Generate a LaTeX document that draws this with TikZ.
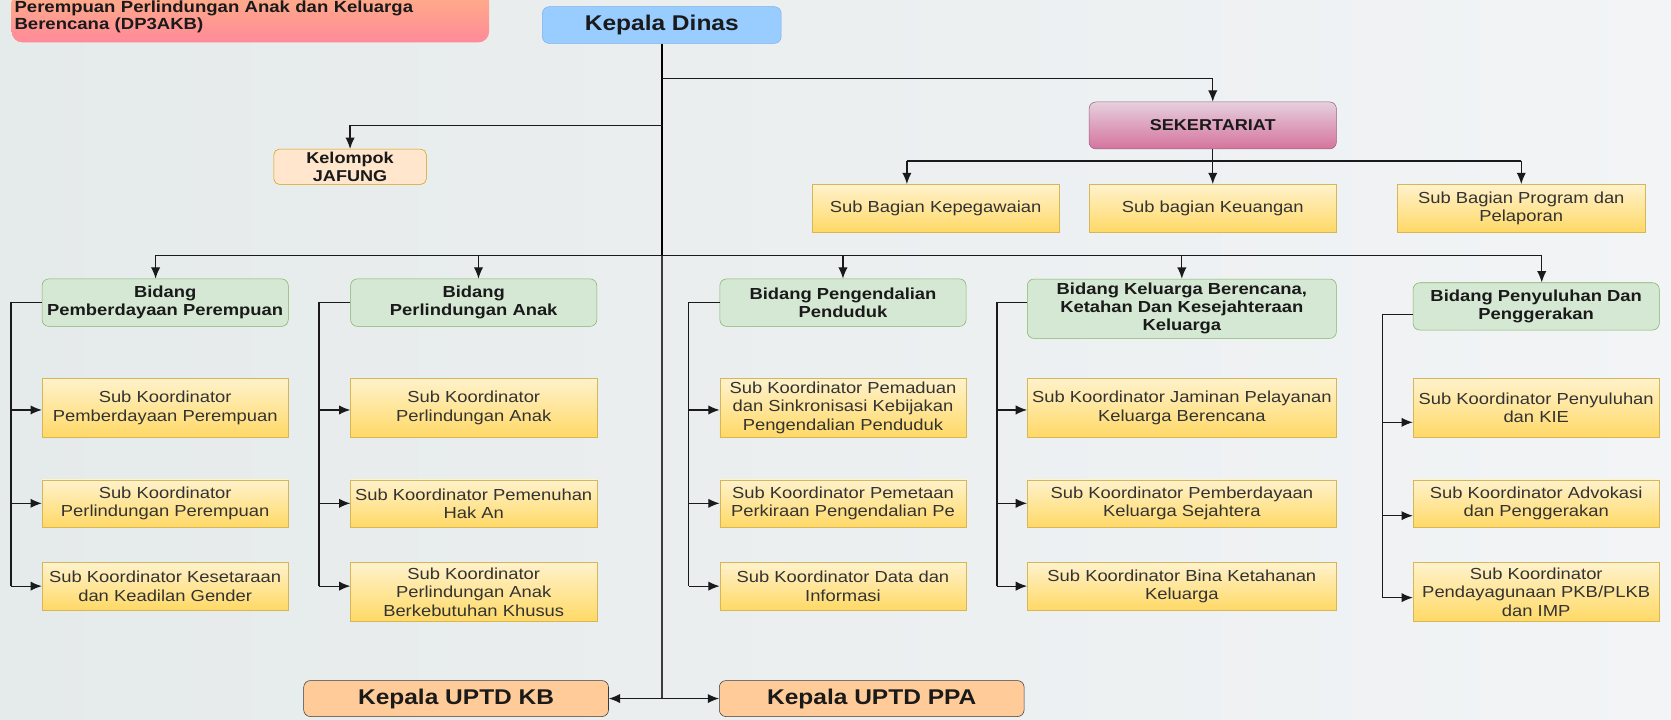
\documentclass[tikz,border=0pt]{standalone}
\usepackage{fontspec}
\setmainfont{Liberation Sans}[FakeStretch=1.15]
\usetikzlibrary{arrows.meta}

\definecolor{bgleft}{HTML}{E5EAEA}
\definecolor{bgright}{HTML}{F2F4F6}
\definecolor{ylwtop}{HTML}{FFF2CC}
\definecolor{ylwbot}{HTML}{FFD966}
\definecolor{ylwline}{HTML}{D6B656}
\definecolor{grnfill}{HTML}{D5E8D4}
\definecolor{grnline}{HTML}{82B366}
\definecolor{blufill}{HTML}{99CCFF}
\definecolor{bluline}{HTML}{7EB0EC}
\definecolor{pnktop}{HTML}{E6D0DE}
\definecolor{pnkbot}{HTML}{D5739D}
\definecolor{pnkline}{HTML}{996185}
\definecolor{jftfill}{HTML}{FFE6CC}
\definecolor{jftline}{HTML}{D79B00}
\definecolor{uptfill}{HTML}{FFCC99}
\definecolor{uptline}{HTML}{36393D}
\definecolor{ttltop}{HTML}{FFAF88}
\definecolor{ttlbot}{HTML}{FF8A98}
\definecolor{ink}{HTML}{1A1A1A}
\definecolor{txtgray}{HTML}{333333}

\newcommand\subtxt{\fontsize{12}{13.6}\selectfont}
\newcommand\bidtxt{\fontsize{12}{13.4}\selectfont\bfseries}
\newcommand\headtxt{\fontsize{16}{18}\selectfont\bfseries}
\newcommand\smalltxt{\fontsize{11.8}{13}\selectfont\bfseries}

\tikzset{
  line/.style={draw=ink, line width=0.9pt},
  arr/.style={line, -{Latex[length=8.5pt,width=7pt]}},
  trunk/.style={draw=black, line width=1.6pt},
  trunklow/.style={draw=ink!85, line width=1.2pt},
  subbox/.style={draw=ylwline, top color=ylwtop, bottom color=ylwbot, align=center,
    inner sep=0pt, text=txtgray, font=\subtxt, minimum width=184.8pt},
  bidbox/.style={draw=grnline, fill=grnfill, rounded corners=5pt, align=center,
    inner sep=0pt, text=ink, font=\bidtxt, minimum width=184.8pt},
  kepala/.style={draw=bluline, fill=blufill, rounded corners=5pt, inner sep=0pt,
    text=ink, font=\headtxt},
  sekbox/.style={draw=pnkline, top color=pnktop, bottom color=pnkbot, rounded corners=5pt,
    inner sep=0pt, text=ink, font=\smalltxt},
  jafbox/.style={draw=jftline, fill=jftfill, rounded corners=4pt, align=center,
    inner sep=0pt, text=ink, font=\smalltxt},
  uptbox/.style={draw=uptline, fill=uptfill, rounded corners=5pt, inner sep=0pt,
    text=ink, font=\headtxt, minimum width=228.8pt, minimum height=27pt},
  judul/.style={draw=none, top color=ttltop, bottom color=ttlbot, rounded corners=8pt,
    align=left, text width=354pt, inner xsep=2.2pt, inner ysep=7pt, text=ink,
    font=\fontsize{12.1}{13.1}\selectfont\bfseries}
}

\begin{document}
\begin{tikzpicture}[x=0.8pt, y=-0.8pt]
  \useasboundingbox (0,0) rectangle (1568,675);
  \shade[left color=bgleft, right color=bgright] (0,0) rectangle (1568,675); % background

  % heading, its top is cut off by the page
  \node[judul, anchor=south west] (judul) at (10.7,40) {Perempuan Perlindungan Anak dan Keluarga\\Berencana (DP3AKB)};

  % top level
  \node[kepala, minimum width=179.2pt, minimum height=27.5pt] (dinas) at (621,23.5) {Kepala Dinas};
  \node[sekbox, minimum width=185.6pt, minimum height=35.2pt] (sekr) at (1138,117.7) {SEKERTARIAT};
  \node[jafbox, minimum width=114.4pt, minimum height=26.4pt] (jafung) at (328.5,156.5) {Kelompok\\JAFUNG};

  % sub bagian of the secretariat
  \node[subbox, minimum width=185.6pt, minimum height=36pt] (sbA) at (878,195.5) {Sub Bagian Kepegawaian};
  \node[subbox, minimum width=185.6pt, minimum height=36pt] (sbB) at (1138,195.5) {Sub bagian Keuangan};
  \node[subbox, minimum width=185.6pt, minimum height=36pt] (sbC) at (1427.5,195.5) {Sub Bagian Program dan\\Pelaporan};

  % bidang
  \node[bidbox, minimum height=35.6pt] (bA) at (155,284) {Bidang\\Pemberdayaan Perempuan};
  \node[bidbox, minimum height=35.6pt] (bB) at (444.5,284) {Bidang\\Perlindungan Anak};
  \node[bidbox, minimum height=35.6pt] (bC) at (791,284) {Bidang Pengendalian\\Penduduk};
  \node[bidbox, minimum width=232pt, minimum height=44.6pt] (bD) at (1109,289.7) {Bidang Keluarga Berencana,\\Ketahan Dan Kesejahteraan\\Keluarga};
  \node[bidbox, minimum height=35.5pt] (bE) at (1441.5,287.5) {Bidang Penyuluhan Dan\\Penggerakan};

  % sub koordinator, column A
  \node[subbox, minimum height=44.3pt] (sA1) at (155,382.7) {Sub Koordinator\\Pemberdayaan Perempuan};
  \node[subbox, minimum height=35.5pt] (sA2) at (155,472.6) {Sub Koordinator\\Perlindungan Perempuan};
  \node[subbox, minimum height=35.5pt] (sA3) at (155,550.2) {Sub Koordinator Kesetaraan\\dan Keadilan Gender};
  % column B
  \node[subbox, minimum height=44.3pt] (sB1) at (444.5,382.7) {Sub Koordinator\\Perlindungan Anak};
  \node[subbox, minimum height=35.5pt] (sB2) at (444.5,472.6) {Sub Koordinator Pemenuhan\\Hak An};
  \node[subbox, minimum height=44.3pt] (sB3) at (444.5,555.7) {Sub Koordinator\\Perlindungan Anak\\Berkebutuhan Khusus};
  % column C
  \node[subbox, minimum height=44.3pt] (sC1) at (791,382.7) {Sub Koordinator Pemaduan\\dan Sinkronisasi Kebijakan\\Pengendalian Penduduk};
  \node[subbox, minimum height=35.5pt] (sC2) at (791,472.6) {Sub Koordinator Pemetaan\\Perkiraan Pengendalian Pe};
  \node[subbox, minimum height=35.5pt] (sC3) at (791,550.2) {Sub Koordinator Data dan\\Informasi};
  % column D
  \node[subbox, minimum width=232pt, minimum height=44.3pt] (sD1) at (1109,382.7) {Sub Koordinator Jaminan Pelayanan\\Keluarga Berencana};
  \node[subbox, minimum width=232pt, minimum height=35.5pt] (sD2) at (1109,472.6) {Sub Koordinator Pemberdayaan\\Keluarga Sejahtera};
  \node[subbox, minimum width=232pt, minimum height=35.5pt] (sD3) at (1109,550.2) {Sub Koordinator Bina Ketahanan\\Keluarga};
  % column E
  \node[subbox, minimum height=44.3pt] (sE1) at (1441.5,382.7) {Sub Koordinator Penyuluhan\\dan KIE};
  \node[subbox, minimum height=35.5pt] (sE2) at (1441.5,472.6) {Sub Koordinator Advokasi\\dan Penggerakan};
  \node[subbox, minimum height=44.3pt] (sE3) at (1441.5,555.7) {Sub Koordinator\\Pendayagunaan PKB/PLKB\\dan IMP};

  % UPTD
  \node[uptbox] (kb) at (428,655.5) {Kepala UPTD KB};
  \node[uptbox] (ppa) at (818,655.5) {Kepala UPTD PPA};

  % trunk from Kepala Dinas
  \draw[trunklow] (dinas.south |- 0,239.5) -- (dinas.south |- 0,655.5);
  \draw[trunk] (dinas.south) -- (dinas.south |- 0,239.5);
  \draw[arr] (dinas.south |- 0,73.5) -| (sekr.north);
  \draw[arr] (dinas.south |- 0,118) -| (jafung.north);

  % secretariat to sub bagian
  \draw[line] (sekr.south) -- (sekr.south |- 0,151);
  \draw[line] (851,151) -- (1427.5,151);
  \draw[arr] (851,151) -- (sbA.north -| 851,0);
  \draw[arr] (sekr.south |- 0,151) -- (sbB.north);
  \draw[arr] (sbC.north |- 0,151) -- (sbC.north);

  % bus to the bidang
  \draw[line] (146,239.5) -- (1446.7,239.5);
  \foreach \b/\x in {bA/146,bB/449,bC/791,bD/1109,bE/1446.7}
    \draw[arr] (\x,239.5) -- (\b.north -| \x,0);

  % feeders down the left of each bidang
  \draw[line] (bA.west) -| (10.3,550);
  \foreach \s/\y in {sA1/384.7,sA2/472.3,sA3/550}
    \draw[arr] (10.3,\y) -- (\s.west |- 0,\y);
  \draw[line] (bB.west) -| (299.4,550);
  \foreach \s/\y in {sB1/384.7,sB2/472.3,sB3/550}
    \draw[arr] (299.4,\y) -- (\s.west |- 0,\y);
  \draw[line] (bC.west) -| (646.4,550);
  \foreach \s/\y in {sC1/384.7,sC2/472.3,sC3/550}
    \draw[arr] (646.4,\y) -- (\s.west |- 0,\y);
  \draw[line] (bD.west |- 0,283.7) -| (935.6,550);
  \foreach \s/\y in {sD1/384.7,sD2/472.3,sD3/550}
    \draw[arr] (935.6,\y) -- (\s.west |- 0,\y);
  \draw[line] (bE.west |- 0,295) -| (1297,560.8);
  \foreach \s/\y in {sE1/396.3,sE2/483.9,sE3/560.8}
    \draw[arr] (1297,\y) -- (\s.west |- 0,\y);

  % trunk to the UPTD
  \draw[arr] (dinas.south |- 0,655.5) -- (kb.east);
  \draw[arr] (dinas.south |- 0,655.5) -- (ppa.west);
\end{tikzpicture}
\end{document}
